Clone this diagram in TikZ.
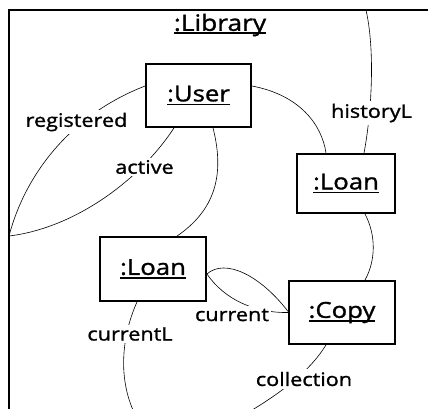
\documentclass[tikz,border=0pt]{standalone}
\usepackage{fontspec}
\setmainfont{Open Sans}[FakeStretch=1.17,FakeBold=1.3]
\usetikzlibrary{calc}
\newcommand\myul[2]{\setbox0\hbox{#2}\rlap{\rule[-#1]{\wd0}{1.6pt}}\box0}
\tikzset{
  frame/.style={line width=2.6pt},
  obj/.style={draw, fill=white, line width=1.8pt, inner sep=0pt},
  conn/.style={line width=0.6pt},
  lab/.style={fill=white, inner sep=2.5pt, font=\fontsize{18.5}{20}\selectfont},
  objfont/.style={font=\fontsize{22}{24}\selectfont}
}
\begin{document}
\begin{tikzpicture}[x=1pt,y=-1pt]
\useasboundingbox (0,0) rectangle (428,408);
\clip (0,0) rectangle (428,408);
% frame
\draw[frame] (9,10) rectangle (440,420);
\node[font=\fontsize{22.5}{24}\selectfont] (lib) at (220,25) {\myul{3pt}{:Library}};
\coordinate (lw) at (9,236);
\coordinate (tp) at (366,10);
\coordinate (b1) at (138,420);
\coordinate (b2) at (235,420);
% objects
\node[obj, objfont, minimum width=105pt, minimum height=63pt] (user) at (198.5,95.5) {\myul{4pt}{:User}};
\node[obj, objfont, minimum width=98pt, minimum height=59pt] (loanA) at (346,183.5) {\myul{4pt}{:Loan}};
\node[obj, objfont, minimum width=106pt, minimum height=64pt] (loanB) at (153,269) {\myul{4pt}{:Loan}};
\node[obj, objfont, minimum width=106pt, minimum height=63pt] (copy) at (342,312.5) {\myul{4pt}{:Copy}};
% connectors
\draw[conn] ($(user.west)+(0,-9.5)$) .. controls (70,115) and (25,175) .. (lw);
\draw[conn] ($(user.south)+(-24.5,0)$) .. controls (140,180) and (75,228) .. (lw);
\draw[conn] ($(user.south)+(14.5,0)$) .. controls (225,175) and (215,210) .. ($(loanB.north)+(24,0)$);
\draw[conn] ($(user.east)+(0,-9.5)$) .. controls (300,95) and (322,125) .. ($(loanA.north)+(-20,0)$);
\draw[conn] ($(loanA.north)+(18,0)$) .. controls (372,110) and (375,50) .. (tp);
\draw[conn] ($(loanA.south)+(19,0)$) .. controls (376,235) and (376,260) .. ($(copy.north)+(23,0)$);
\draw[conn] ($(loanB.east)+(0,5)$) .. controls (225,258) and (260,275) .. ($(copy.west)+(0,-1)$);
\draw[conn] ($(loanB.east)+(0,5)$) .. controls (225,300) and (255,313) .. (copy.west);
\draw[conn] ($(loanB.south)+(-16,0)$) .. controls (120,340) and (118,385) .. (b1);
\draw[conn] ($(copy.south)+(-16,0)$) .. controls (312,368) and (285,392) .. (b2);
% labels
\node[lab] (lreg) at (76.5,122) {registered};
\node[lab] (lact) at (144.5,167) {active};
\node[lab] (lhist) at (371.5,113) {historyL};
\node[lab] (lcur) at (232,315) {current};
\node[lab] (lcurL) at (130,334) {currentL};
\node[lab] (lcol) at (304,379) {collection};
\end{tikzpicture}
\end{document}
